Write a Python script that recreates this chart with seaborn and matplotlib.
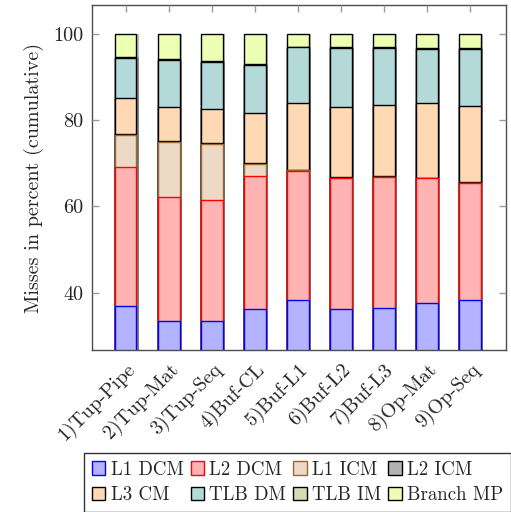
import numpy as np
import pandas as pd
import matplotlib
matplotlib.use("Agg")
import matplotlib.pyplot as plt
import matplotlib.patheffects as pe
from matplotlib.patches import Patch
import seaborn as sns

# ---------------- data ----------------
categories = ["1)Tup-Pipe", "2)Tup-Mat", "3)Tup-Seq", "4)Buf-CL", "5)Buf-L1",
              "6)Buf-L2", "7)Buf-L3", "8)Op-Mat", "9)Op-Seq"]
series_names = ["L1 DCM", "L2 DCM", "L1 ICM", "L2 ICM", "L3 CM",
                "TLB DM", "TLB IM", "Branch MP"]
l1_dcm = [37.0, 33.4, 33.5, 36.3, 38.3, 36.3, 36.5, 37.6, 38.3]
l2_dcm = [32.1, 28.7, 28.0, 30.8, 29.9, 30.3, 30.3, 28.9, 27.1]
l1_icm = [7.4, 12.8, 12.9, 2.8, 0.2, 0.1, 0.1, 0.1, 0.1]
l2_icm = [0.3, 0.3, 0.3, 0.2, 0.1, 0.1, 0.1, 0.1, 0.1]
l3_cm = [8.3, 7.8, 7.8, 11.5, 15.4, 16.3, 16.6, 17.2, 17.8]
tlb_dm = [9.3, 11.0, 11.0, 11.2, 13.0, 13.7, 13.2, 12.7, 13.2]
tlb_im = [0.3, 0.2, 0.2, 0.2, 0.1, 0.1, 0.1, 0.1, 0.1]
branch_mp = [5.3, 5.8, 6.3, 7.0, 3.0, 3.1, 3.1, 3.3, 3.3]
yticks = [40, 60, 80, 100]

series_values = [l1_dcm, l2_dcm, l1_icm, l2_icm, l3_cm, tlb_dm, tlb_im, branch_mp]
fills = [(0.7, 0.7, 1.0), (1.0, 0.7, 0.7), (0.925, 0.85, 0.775), (0.7, 0.7, 0.7),
         (1.0, 0.85, 0.7), (0.7, 0.85, 0.85), (0.85, 0.85, 0.7), (0.925, 1.0, 0.7)]
edges = ["blue", "red", (0.6, 0.4, 0.2), "black", "black", "black", "black", "black"]

FS = 14.5
LFS = 13.6

sns.set_theme(style="white")
plt.rcParams["font.family"] = ["cmr10", "DejaVu Serif"]
plt.rcParams["axes.formatter.use_mathtext"] = True
plt.rcParams["font.size"] = FS

fig = plt.figure(figsize=(5.11, 5.12), dpi=100)
ax = fig.add_axes([0.1795, 0.3164, 0.9896 - 0.1795, 0.990 - 0.3164])

cum = np.cumsum(np.array(series_values), axis=0)
shadow = [pe.SimplePatchShadow(offset=(1.5, 0), shadow_rgbFace=(0.5, 0.5, 0.5), alpha=0.5), pe.Normal()]
for i in range(len(series_names) - 1, -1, -1):
    df = pd.DataFrame({"cat": categories, "val": cum[i]})
    sns.barplot(data=df, x="cat", y="val", color=fills[i], saturation=1,
                edgecolor=edges[i], linewidth=1.0, width=0.5, ax=ax, zorder=2 + (8 - i) * 0.01)
for p in ax.patches:
    p.set_path_effects(shadow)

ax.set_xlim(-0.79, 8.83)
ax.set_ylim(26.7, 106.7)
ax.set_yticks(yticks)
ax.set_yticklabels([str(v) for v in yticks])
ax.set_xlabel("")
ax.set_ylabel("Misses in percent (cumulative)", fontsize=FS, labelpad=7)
ax.set_xticks(range(len(categories)))
ax.set_xticklabels(categories, rotation=45, ha="right", rotation_mode="anchor", fontsize=FS)

ax.tick_params(axis="y", which="both", direction="in", left=True, right=True,
               length=5, width=1.0, color=(0.6, 0.6, 0.6), labelsize=FS, pad=6)
ax.tick_params(axis="x", which="both", direction="in", top=True, bottom=False,
               length=5, width=1.0, color=(0.6, 0.6, 0.6), labelsize=FS, pad=7)
for s in ax.spines.values():
    s.set_color((0.3, 0.3, 0.3))
    s.set_linewidth(1.0)
    s.set_visible(True)
ax.set_axisbelow(False)

order = [0, 4, 1, 5, 2, 6, 3, 7]
handles = [Patch(facecolor=fills[i], edgecolor=edges[i], linewidth=1.0) for i in order]
labels = [series_names[i] for i in order]
leg = fig.legend(handles, labels, ncol=4, loc="upper left",
                 bbox_to_anchor=(0.165, 0.0, 0.835, 0.115), mode="expand",
                 frameon=True, fancybox=False, fontsize=LFS, handlelength=0.7,
                 handleheight=0.7, handletextpad=0.3, columnspacing=0.3,
                 borderpad=0.4, labelspacing=0.4, borderaxespad=0)
leg.get_frame().set_edgecolor("black")
leg.get_frame().set_linewidth(1.0)

fig.savefig("out.png", dpi=100)
